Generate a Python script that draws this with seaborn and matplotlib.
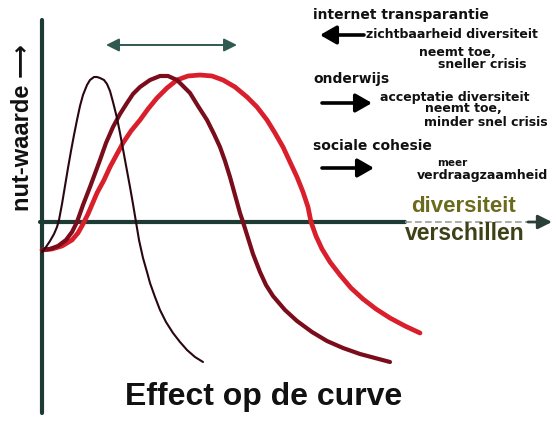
import matplotlib
matplotlib.use("Agg")
import matplotlib.pyplot as plt
import seaborn as sns
import pandas as pd

sns.set_theme(style="white")
plt.rcParams['font.family'] = ['Liberation Sans', 'DejaVu Sans']

# ---- data (diversity x, utility y) ----
black_x = [0, 0.8, 1.6, 2.4, 3, 3.4, 4, 4.6, 5.2, 5.8, 6.4, 7, 7.6, 8.2, 9, 9.6, 10.4,
           11, 11.6, 12.4, 13, 13.6, 14.2, 15, 15.6, 16.6, 17.6, 18.2, 18.8, 19.4, 20.2,
           21, 21.6, 22.6, 23.6, 24.8, 26.2, 27.6, 29, 30.6, 32.2]
black_y = [-15, -12.5, -9.5, -6, -2.5, 1, 9, 18, 27, 35.5, 43.5, 51, 58, 63.5, 68.5, 71,
           72.5, 72.5, 72, 71, 69, 65.5, 60, 52, 44.5, 31, 17.5, 9, 0, -9, -18, -25,
           -30.5, -37.5, -44, -50, -55.5, -60, -64, -67.5, -70]

maroon_x = [0, 1.6, 3.2, 4.8, 6, 7, 8.2, 9.6, 11.6, 12.8, 14.2, 15.6, 17, 18.2, 19.6,
            21.6, 23.6, 25.2, 27, 28.4, 29.6, 31.2, 33, 34.4, 35.6, 36.6, 37.6, 38.6,
            39.6, 40.2, 41.2, 42.2, 43.6, 44.8, 46.2, 48.6, 51, 54, 57, 60.2, 63.6,
            66.6, 69.6]
maroon_y = [-14, -13.5, -12, -9, -5, 0, 8.5, 17.5, 31, 39.5, 47.5, 54, 59.5, 64, 67.5,
            71, 73, 73, 71, 67.5, 64.5, 58, 51, 44, 37.5, 30.5, 22.5, 13.5, 4.5, 0, -8,
            -16, -25, -31.5, -37, -44, -49.5, -55, -59.5, -63, -66, -68, -70]

red_x = [0, 2, 4, 6, 7.2, 8.2, 9.2, 11, 12.4, 13.6, 15, 16.2, 17.8, 19.6, 21.2, 23, 25,
         27, 29.2, 31.6, 34, 36.2, 38.6, 41, 43, 45, 46.6, 48.2, 49.6, 51, 52.2, 53.2,
         53.8, 54.8, 56, 57.6, 59.6, 61.8, 64.2, 66.8, 69.6, 72.6, 75.6]
red_y = [-14, -13.5, -12, -9, -5.5, -1, 4, 14.5, 21, 27.5, 34, 39.5, 45.5, 51, 56.5, 62,
         67, 71, 73, 73.5, 73, 71, 67.5, 62.5, 57.5, 51, 44.5, 37.5, 30, 22.5, 15, 7.5,
         0, -7, -13.5, -20, -26.5, -33, -38.5, -43.5, -48, -52, -55.5]

curve_names = ["red", "maroon", "black"]
curve_colors = {"red": "#d91f2b", "maroon": "#7a0d1c", "black": "#2a0610"}
curve_widths = {"red": 3.4, "maroon": 3.0, "black": 1.5}

df = pd.concat([
    pd.DataFrame({"x": red_x, "y": red_y, "curve": "red"}),
    pd.DataFrame({"x": maroon_x, "y": maroon_y, "curve": "maroon"}),
    pd.DataFrame({"x": black_x, "y": black_y, "curve": "black"}),
])

W, H = 556, 424
fig = plt.figure(figsize=(W / 100, H / 100), dpi=100)
ax = fig.add_axes([0, 0, 1, 1])

def P(px, py):
    """layout helper: pixel position -> data coords"""
    return ((px - 42) / 5.0, (222 - py) / 2.0)

x0, y0 = P(0, H)
x1, y1 = P(W, 0)
ax.set_xlim(x0, x1)
ax.set_ylim(y0, y1)
ax.axis("off")

for name in curve_names:
    sub = df[df.curve == name]
    sns.lineplot(data=sub, x="x", y="y", sort=False, estimator=None, ax=ax,
                 color=curve_colors[name], lw=curve_widths[name],
                 solid_capstyle="round", solid_joinstyle="round", zorder=3)

axis_col = "#1d3a34"
# vertical axis
ax.plot([P(42, 20)[0], P(42, 413)[0]], [P(42, 20)[1], P(42, 413)[1]],
        color=axis_col, lw=3, zorder=2)
# horizontal axis
ax.plot([P(40, 222)[0], P(405, 222)[0]], [0, 0], color=axis_col, lw=3, zorder=2)
ax.plot([P(405, 222)[0], P(530, 222)[0]], [0, 0], color="#9aa39a", lw=1.2,
        ls=(0, (4, 2)), zorder=2)
ax.annotate("", xy=P(552, 222), xytext=P(528, 222),
            arrowprops=dict(arrowstyle="-|>,head_length=0.6,head_width=0.3",
                            color="#2a3f3a", lw=2,
                            mutation_scale=14, shrinkA=0, shrinkB=0))

# top double arrow
ax.annotate("", xy=P(106, 45), xytext=P(237, 45),
            arrowprops=dict(arrowstyle="<|-|>,head_length=0.6,head_width=0.3",
                            color="#2f5a50", lw=1.4,
                            mutation_scale=13, shrinkA=0, shrinkB=0))

# y label
ax.text(*P(23, 128), "nut-waarde \u27f6", rotation=90, ha="center", va="center",
        fontsize=17, fontweight="bold", color="#111111")

# axis words
ax.text(*P(463, 207), "diversiteit", ha="center", va="center",
        fontsize=16, fontweight="bold", color="#6b6a1d")
ax.text(*P(465, 234), "verschillen", ha="center", va="center",
        fontsize=16.5, fontweight="bold", color="#3f4016")

# title
ax.text(*P(264, 405), "Effect op de curve", ha="center", va="baseline",
        fontsize=23, fontweight="bold", color="#111111")

# explanation block
blk = ['DejaVu Sans']
big = 10
small = 9
arr = "-|>,head_length=0.7,head_width=0.4"
ax.text(*P(313, 15), "internet transparantie", ha="left", va="center",
        fontsize=big, fontweight="bold", color="#111111", family=blk)
ax.annotate("", xy=P(320, 35), xytext=P(364, 35),
            arrowprops=dict(arrowstyle=arr, color="black", lw=2.6,
                            mutation_scale=14, shrinkA=0, shrinkB=0))
ax.text(*P(366, 35), "zichtbaarheid diversiteit", ha="left", va="center",
        fontsize=small, fontweight="bold", color="#111111", family=blk)
ax.text(*P(457, 52), "neemt toe,", ha="center", va="center",
        fontsize=small, fontweight="bold", color="#111111", family=blk)
ax.text(*P(482, 64), "sneller crisis", ha="center", va="center",
        fontsize=small, fontweight="bold", color="#111111", family=blk)

ax.text(*P(313, 79), "onderwijs", ha="left", va="center",
        fontsize=big, fontweight="bold", color="#111111", family=blk)
ax.annotate("", xy=P(372, 103), xytext=P(322, 103),
            arrowprops=dict(arrowstyle=arr, color="black", lw=2.6,
                            mutation_scale=14, shrinkA=0, shrinkB=0))
ax.text(*P(380, 97), "acceptatie diversiteit", ha="left", va="center",
        fontsize=small, fontweight="bold", color="#111111", family=blk)
ax.text(*P(463, 109), "neemt toe,", ha="center", va="center",
        fontsize=small, fontweight="bold", color="#111111", family=blk)
ax.text(*P(486, 122), "minder snel crisis", ha="center", va="center",
        fontsize=small, fontweight="bold", color="#111111", family=blk)

ax.text(*P(313, 146), "sociale cohesie", ha="left", va="center",
        fontsize=big, fontweight="bold", color="#111111", family=blk)
ax.annotate("", xy=P(374, 168), xytext=P(322, 168),
            arrowprops=dict(arrowstyle=arr, color="black", lw=2.6,
                            mutation_scale=14, shrinkA=0, shrinkB=0))
ax.text(*P(452, 163), "meer", ha="center", va="center",
        fontsize=7.5, fontweight="bold", color="#111111", family=blk)
ax.text(*P(482, 176), "verdraagzaamheid", ha="center", va="center",
        fontsize=small, fontweight="bold", color="#111111", family=blk)

fig.savefig("out.png", dpi=100, facecolor="white")
